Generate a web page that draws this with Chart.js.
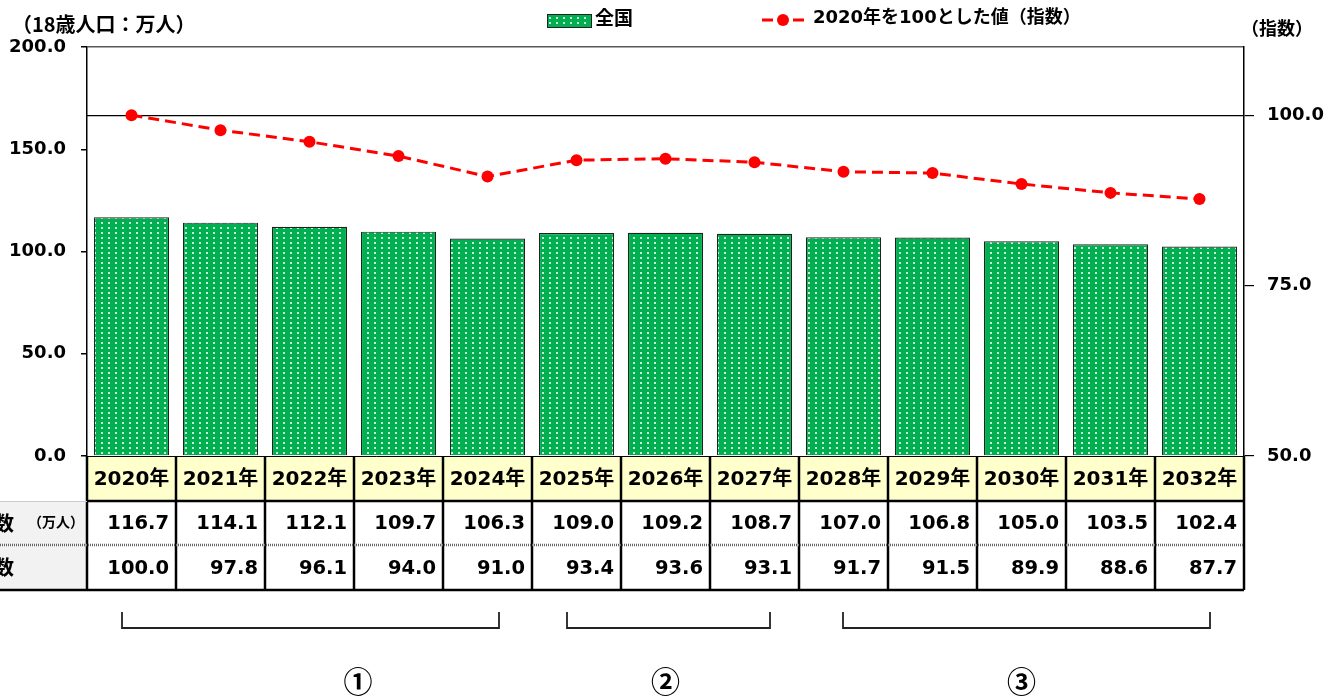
<!DOCTYPE html>
<html><head><meta charset="utf-8">
<script src="https://cdn.jsdelivr.net/npm/chart.js@4/dist/chart.umd.min.js"></script>
<style>html,body{margin:0;padding:0;background:#fff;}#wrap{width:1326px;height:697px;position:relative;}</style>
</head><body><div id="wrap"><canvas id="c" width="1326" height="697"></canvas></div>
<script>
const years = ['2020年','2021年','2022年','2023年','2024年','2025年','2026年','2027年','2028年','2029年','2030年','2031年','2032年'];
const population = [116.7,114.1,112.1,109.7,106.3,109.0,109.2,108.7,107.0,106.8,105.0,103.5,102.4];
const indexValues = [100.0,97.8,96.1,94.0,91.0,93.4,93.6,93.1,91.7,91.5,89.9,88.6,87.7];
const leftTicks = [0,50,100,150,200];
const rightTicks = [50,75,100];
const seriesNames = ['全国','2020年を100とした値（指数）'];
const axisTitles = ['（18歳人口：万人）','（指数）'];
const rowLabels = ['18歳人口数','指数'];
const rowUnit = '（万人）';
const groupLabels = ['①','②','③'];
const groupRanges = [[0,4],[5,7],[8,12]];

const FONT = '"DejaVu Sans","Noto Sans CJK JP",sans-serif';
const JP = '"Noto Sans CJK JP","DejaVu Sans",sans-serif';

function makePattern(){
  const p = document.createElement('canvas'); p.width = 7; p.height = 5;
  const g = p.getContext('2d');
  g.fillStyle = '#00b050'; g.fillRect(0,0,7,5);
  g.fillStyle = 'rgba(255,255,255,0.8)'; g.fillRect(3,2,2,2);
  return document.getElementById('c').getContext('2d').createPattern(p,'repeat');
}
const pattern = makePattern();

const extras = {
  id:'extras',
  afterDraw(chart){
    const ctx = chart.ctx, ca = chart.chartArea, xs = chart.scales.x;
    const n = years.length, cw = (ca.right-ca.left)/n;
    ctx.save();
    // axis titles
    ctx.fillStyle = '#000'; ctx.textBaseline = 'middle';
    ctx.font = 'bold 20px '+JP; ctx.textAlign = 'left';
    ctx.fillText(axisTitles[0], 12, 24);
    ctx.font = 'bold 18px '+JP;
    ctx.fillText(axisTitles[1], 1241, 28);
    // legend
    ctx.fillStyle = pattern; ctx.fillRect(547,14,44,13);
    ctx.strokeStyle = '#222'; ctx.lineWidth = 1; ctx.strokeRect(547.5,14.5,44,13);
    ctx.fillStyle = '#000'; ctx.font = 'bold 19px '+JP;
    ctx.fillText(seriesNames[0], 595, 18);
    ctx.strokeStyle = '#ff0000'; ctx.lineWidth = 3;
    ctx.beginPath(); ctx.moveTo(762,20); ctx.lineTo(773,20); ctx.moveTo(793,20); ctx.lineTo(804,20); ctx.stroke();
    ctx.fillStyle = '#ff0000'; ctx.beginPath(); ctx.arc(783,20,6,0,Math.PI*2); ctx.fill();
    ctx.fillStyle = '#000'; ctx.font = 'bold 18px '+FONT;
    ctx.fillText(seriesNames[1], 813, 18);
    // table
    const y0 = ca.bottom, y1 = y0+45, y2 = y1+44, y3 = y2+45;
    ctx.fillStyle = '#ffffcc'; ctx.fillRect(ca.left, y0, ca.right-ca.left, y1-y0);
    ctx.fillStyle = '#f2f2f2'; ctx.fillRect(0, y1, ca.left, y3-y1);
    ctx.fillStyle = '#000';
    for(let i=0;i<n;i++){
      const cx = xs.getPixelForValue(i), r = cx + cw/2;
      ctx.font = 'bold 20px '+FONT; ctx.textAlign = 'center';
      ctx.fillText(years[i], cx, (y0+y1)/2+1);
      ctx.font = 'bold 19.5px '+FONT; ctx.textAlign = 'right';
      ctx.fillText(population[i].toFixed(1), r-7, (y1+y2)/2+1);
      ctx.fillText(indexValues[i].toFixed(1), r-7, (y2+y3)/2+1);
    }
    ctx.textAlign = 'right'; ctx.font = 'bold 20px '+JP;
    ctx.fillText(rowLabels[0], 14, (y1+y2)/2);
    ctx.fillText(rowLabels[1], 14, (y2+y3)/2);
    ctx.textAlign = 'center'; ctx.font = 'bold 14px '+JP;
    ctx.fillText(rowUnit, 56, (y1+y2)/2-1);
    // grid lines
    ctx.strokeStyle = '#000'; ctx.lineWidth = 2.5;
    for(let i=0;i<=n;i++){
      const x = ca.left + i*cw;
      ctx.beginPath(); ctx.moveTo(x, y0); ctx.lineTo(x, y3); ctx.stroke();
    }
    ctx.lineWidth = 1;
    ctx.beginPath(); ctx.moveTo(ca.left, y0+0.5); ctx.lineTo(ca.right, y0+0.5); ctx.stroke();
    ctx.lineWidth = 2.5;
    ctx.beginPath(); ctx.moveTo(ca.left, y1); ctx.lineTo(ca.right, y1); ctx.stroke();
    ctx.beginPath(); ctx.moveTo(0, y3); ctx.lineTo(ca.right, y3); ctx.stroke();
    ctx.strokeStyle = '#ccc'; ctx.lineWidth = 1;
    ctx.beginPath(); ctx.moveTo(0, y1+0.5); ctx.lineTo(ca.left, y1+0.5); ctx.stroke();
    ctx.strokeStyle = '#666'; ctx.lineWidth = 2.5; ctx.setLineDash([1,1]);
    ctx.beginPath(); ctx.moveTo(0, y2); ctx.lineTo(ca.right, y2); ctx.stroke();
    ctx.setLineDash([]);
    // brackets
    const pads = [[-9.5,11.5],[-9.5,15.5],[-0.5,10.5]];
    const labelAt = [2.545, 6, 10];
    ctx.strokeStyle = '#222'; ctx.lineWidth = 1.8;
    groupRanges.forEach((g,k)=>{
      const a = xs.getPixelForValue(g[0])+pads[k][0], b = xs.getPixelForValue(g[1])+pads[k][1];
      ctx.beginPath(); ctx.moveTo(a,612); ctx.lineTo(a,628); ctx.lineTo(b,628); ctx.lineTo(b,612); ctx.stroke();
      ctx.fillStyle = '#000'; ctx.font = 'bold 29px '+JP; ctx.textAlign = 'center';
      ctx.fillText(groupLabels[k], xs.getPixelForValue(labelAt[k]), 682);
    });
    ctx.restore();
  }
};

new Chart(document.getElementById('c'), {
  data: {
    labels: years,
    datasets: [
      { type:'line', label: seriesNames[1], data: indexValues, yAxisID:'y1', order:0,
        borderColor:'#ff0000', backgroundColor:'#ff0000', borderWidth:3, borderDash:[11,6],
        pointRadius:6, pointBorderWidth:0, pointBackgroundColor:'#ff0000', tension:0 },
      { type:'bar', label: seriesNames[0], data: population, yAxisID:'y', order:1,
        backgroundColor: pattern, borderColor:'#222', borderWidth:1.2,
        barPercentage:0.845, categoryPercentage:1.0 }
    ]
  },
  options: {
    responsive:false, animation:false,
    layout:{ padding:{ top:47, bottom:241, left:0, right:0 } },
    plugins:{ legend:{display:false}, tooltip:{enabled:false} },
    scales:{
      x:{ display:false, offset:true, grid:{display:false} },
      y:{ position:'left', min:0, max:200,
        afterBuildTicks: s => { s.ticks = leftTicks.map(v=>({value:v})); },
        afterFit: s => { s.width = 87; },
        ticks:{ color:'#000', padding:15, font:{family:FONT, size:18, weight:'bold'}, callback: v => Number(v).toFixed(1) },
        grid:{ color: c => (c.tick && c.tick.value===200) ? '#595959' : 'rgba(0,0,0,0)', tickColor:'#000', tickLength:6, lineWidth:1.5 },
        border:{ display:true, color:'#000', width:1.5 } },
      y1:{ position:'right', min:50, max:110,
        afterBuildTicks: s => { s.ticks = rightTicks.map(v=>({value:v})); },
        afterFit: s => { s.width = 82; },
        ticks:{ color:'#000', padding:13, font:{family:FONT, size:18, weight:'bold'}, callback: v => Number(v).toFixed(1) },
        grid:{ color: c => (c.tick && c.tick.value===100) ? '#000' : 'rgba(0,0,0,0)', tickColor:'#000', tickLength:10, lineWidth:1.2 },
        border:{ display:true, color:'#000', width:1.5 } }
    }
  },
  plugins:[extras]
});
</script></body></html>
